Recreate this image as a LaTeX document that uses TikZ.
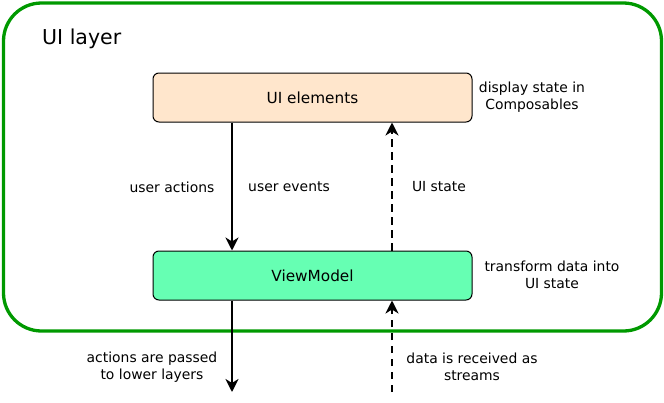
\documentclass[tikz,border=0pt]{standalone}
\usepackage{fontspec}
\setmainfont{DejaVu Sans}
\usetikzlibrary{arrows.meta}
\definecolor{layergreen}{HTML}{009900}
\definecolor{uifill}{HTML}{FFE6CC}
\definecolor{vmfill}{HTML}{66FFB3}
\begin{document}
\begin{tikzpicture}[x=1pt,y=-1pt,
  box/.style={draw=black, line width=1pt, rounded corners=6pt, minimum width=319pt, minimum height=49pt, font=\fontsize{15.3}{18}\selectfont, inner sep=0pt},
  lbl/.style={font=\fontsize{13.9}{17}\selectfont, align=center, inner sep=0pt},
  flow/.style={line width=2.8pt, -{Stealth[length=13pt,width=13pt,inset=4pt]}},
  dflow/.style={flow, dash pattern=on 7.5pt off 5.5pt}]
\useasboundingbox (0,0) rectangle (664,402);
\node[draw=layergreen, line width=3.3pt, rounded corners=38pt, minimum width=658pt, minimum height=328pt, inner sep=0pt] (layer) at (332.5,167) {};
\node[font=\fontsize{20.5}{24}\selectfont, anchor=west, inner sep=0pt] (title) at (42,39) {UI layer};
\node[box, fill=uifill] (ui) at (312.5,97.5) {UI elements};
\node[box, fill=vmfill] (vm) at (312.5,275.5) {ViewModel};
\node[lbl] (disp) at (532,97) {display state in\\Composables};
\node[lbl] (trans) at (552,275) {transform data into\\UI state};
\node[lbl] (ua) at (172,187) {user actions};
\node[lbl] (ue) at (289,187) {user events};
\node[lbl] (us) at (439,187) {UI state};
\node[lbl] (ap) at (152,367) {actions are passed\\to lower layers};
\node[lbl] (dr) at (472,367) {data is received as\\streams};
\coordinate (lowA) at (232,392);
\coordinate (lowB) at (392,392);
\draw[flow] (ui.south -| lowA) -- (vm.north -| lowA);
\draw[dflow] (vm.north -| lowB) -- (ui.south -| lowB);
\draw[flow] (vm.south -| lowA) -- (lowA);
\draw[dflow] (lowB) -- (vm.south -| lowB);
\end{tikzpicture}
\end{document}
